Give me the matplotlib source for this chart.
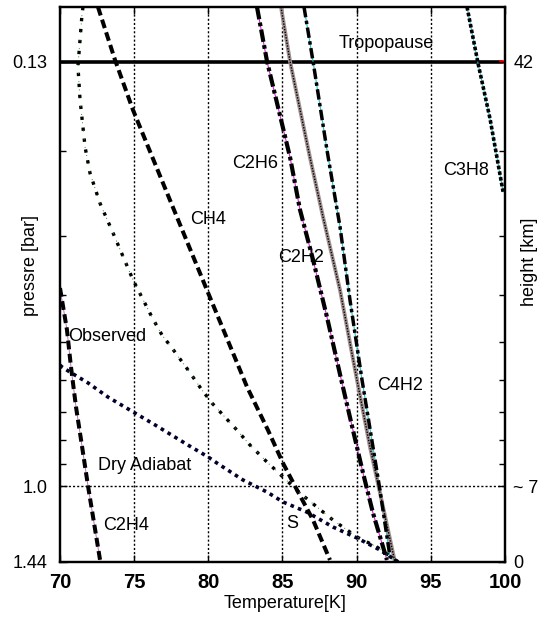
import matplotlib
matplotlib.use("Agg")
import matplotlib.pyplot as plt
from matplotlib.ticker import FixedLocator, NullFormatter

plt.rcParams['font.family'] = ['Liberation Sans', 'DejaVu Sans']
plt.rcParams['font.size'] = 13

# curves: temperature [K] vs pressure [bar]
obs_T = [71.55, 71.48, 71.21, 71.35, 71.69, 72.02, 72.70, 73.57, 74.92, 76.20, 76.88, 77.55,
         78.63, 79.57, 80.25, 81.93, 82.81, 83.96, 85.03, 86.18, 87.33, 88.40, 90.02, 91.37, 92.8]
obs_p = [0.100, 0.104, 0.133, 0.156, 0.196, 0.222, 0.257, 0.296, 0.371, 0.444, 0.484, 0.515,
         0.572, 0.630, 0.671, 0.764, 0.821, 0.891, 0.957, 1.034, 1.106, 1.177, 1.277, 1.340, 1.44]

dry_T = [70.00, 70.13, 70.67, 71.89, 73.24, 75.06, 76.40, 78.63, 79.98, 80.58, 82.34, 83.96,
         85.03, 86.65, 88.40, 90.02, 91.57, 92.8]
dry_p = [0.559, 0.564, 0.578, 0.609, 0.652, 0.704, 0.745, 0.821, 0.869, 0.895, 0.971, 1.029,
         1.079, 1.133, 1.217, 1.283, 1.359, 1.44]

ch4_T = [72.56, 73.71, 74.92, 76.94, 79.91, 82.61, 84.02, 85.03, 85.98, 87.06, 88.20]
ch4_p = [0.100, 0.129, 0.164, 0.233, 0.390, 0.621, 0.764, 0.895, 1.019, 1.177, 1.426]

c2h4_T = [70.00, 70.47, 70.74, 71.08, 71.42, 71.89, 72.70]
c2h4_p = [0.386, 0.472, 0.564, 0.684, 0.801, 1.000, 1.426]

c2h6_T = [83.28, 83.96, 85.51, 86.18, 87.06, 88.00, 89.01, 89.75, 90.43, 91.10, 92.04]
c2h6_p = [0.100, 0.130, 0.206, 0.265, 0.337, 0.444, 0.609, 0.764, 0.939, 1.138, 1.426]

c2h2_T = [84.90, 85.51, 86.85, 87.73, 88.88, 90.02, 90.90, 91.78, 92.58]
c2h2_p = [0.100, 0.130, 0.206, 0.274, 0.390, 0.600, 0.829, 1.106, 1.44]

c4h2_T = [86.45, 87.06, 88.00, 88.88, 89.55, 90.36, 91.10, 91.57, 92.25]
c4h2_p = [0.100, 0.130, 0.199, 0.288, 0.409, 0.600, 0.829, 1.019, 1.406]

c3h8_T = [97.44, 98.18, 98.99, 99.87]
c3h8_p = [0.100, 0.131, 0.171, 0.243]

tropopause_p = 0.13

p_ticks = [0.13, 1.0, 1.44]
p_ticklabels = ['0.13', '1.0', '1.44']
h_ticklabels = ['42', '~ 7', '0']
p_minor = [0.2, 0.3, 0.4, 0.5, 0.6, 0.7, 0.8, 0.9]
t_ticks = [70, 75, 80, 85, 90, 95, 100]

# label text and where it sits (T, p)
labels = [
    ('Tropopause', 91.98, 0.119, 'center'),
    ('C2H6', 83.15, 0.212, 'center'),
    ('CH4', 79.98, 0.278, 'center'),
    ('C2H2', 86.25, 0.333, 'center'),
    ('C3H8', 97.37, 0.219, 'center'),
    ('C4H2', 92.92, 0.618, 'center'),
    ('Observed', 70.54, 0.487, 'left'),
    ('Dry Adiabat', 75.73, 0.9035, 'center'),
    ('C2H4', 74.45, 1.211, 'center'),
    ('S', 85.64, 1.194, 'center'),
]

fig = plt.figure(figsize=(5.41, 6.24), dpi=100)
ax = fig.add_axes([60 / 541, 1 - 562 / 624, 445 / 541, 555 / 624])

ax.set_yscale('log')
ax.set_xlim(70, 100)
ax.set_ylim(1.44, 0.1)

grid_ls = (0, (1.5, 1.5))
for t in t_ticks[1:-1]:
    ax.axvline(t, color='black', lw=1.0, ls=grid_ls, zorder=1)
ax.axhline(1.0, color='black', lw=1.0, ls=grid_ls, zorder=1)

# tropopause
ax.plot([70, 99.7], [tropopause_p, tropopause_p], color='black', lw=2.6, zorder=3)
ax.plot([99.7, 100], [tropopause_p, tropopause_p], color='red', lw=2.6, zorder=3)

# observed and dry adiabat
ax.plot(obs_T, obs_p, color='black', lw=2.4, ls=(0, (1, 2.3)), zorder=4)
ax.plot(obs_T, obs_p, color='#1a9a1a', lw=0.7, ls=(0, (1, 7.5)), zorder=5)
ax.plot(dry_T, dry_p, color='#00002a', lw=2.6, ls=(0, (1, 1.2)), zorder=4)

# dashed ones
ax.plot(ch4_T, ch4_p, color='black', lw=2.9, ls=(0, (2.2, 1.1)), zorder=4)
ax.plot(c2h4_T, c2h4_p, color='#c070c0', lw=0.7, zorder=3)
ax.plot(c2h4_T, c2h4_p, color='black', lw=2.9, ls=(0, (2.2, 1.1)), zorder=4)

# dash-dot ones
ax.plot(c2h6_T, c2h6_p, color='#e020e0', lw=0.8, zorder=3)
ax.plot(c2h6_T, c2h6_p, color='black', lw=3.0, ls=(0, (3.0, 0.8, 0.9, 0.8)), zorder=4)
ax.plot(c4h2_T, c4h2_p, color='#20c0d0', lw=0.8, zorder=3)
ax.plot(c4h2_T, c4h2_p, color='black', lw=2.5, ls=(0, (3.0, 1.0, 1.0, 1.0)), zorder=4)

# grey hatched one
ax.plot(c2h2_T, c2h2_p, color='#a09090', lw=2.8, zorder=3)
ax.plot(c2h2_T, c2h2_p, color='black', lw=1.0, ls=(0, (1, 1)), zorder=4)

# C3H8 dotted
ax.plot(c3h8_T, c3h8_p, color='#20c0d0', lw=0.8, zorder=3)
ax.plot(c3h8_T, c3h8_p, color='black', lw=2.6, ls=(0, (1, 0.6)), zorder=4)

for txt, t, p, ha in labels:
    ax.text(t, p, txt, ha=ha, va='center', fontsize=13, zorder=6)

ax.set_xticks(t_ticks)
ax.set_xticklabels([str(t) for t in t_ticks], fontweight='bold')
ax.set_yticks(p_ticks)
ax.set_yticklabels(p_ticklabels)
ax.yaxis.set_minor_locator(FixedLocator(p_minor))
ax.yaxis.set_minor_formatter(NullFormatter())
ax.tick_params(axis='x', direction='in', top=True, length=5, width=1, pad=8, labelsize=14.5)
ax.tick_params(axis='y', which='major', direction='in', length=5, width=1, pad=9, labelsize=13)
ax.tick_params(axis='y', which='minor', direction='in', length=4, width=1)

ax2 = ax.twinx()
ax2.set_yscale('log')
ax2.set_ylim(1.44, 0.1)
ax2.set_yticks(p_ticks)
ax2.set_yticklabels(h_ticklabels)
ax2.yaxis.set_minor_locator(FixedLocator(p_minor))
ax2.yaxis.set_minor_formatter(NullFormatter())
ax2.tick_params(axis='y', which='major', direction='in', length=5, width=1, pad=6, labelsize=13)
ax2.tick_params(axis='y', which='minor', direction='in', length=4, width=1)

for a in (ax, ax2):
    for s in a.spines.values():
        s.set_linewidth(1.6)

fig.text(31 / 541, 1 - 265 / 624, 'pressre [bar]', rotation=90, ha='center', va='center', fontsize=13)
fig.text(530 / 541, 1 - 262 / 624, 'height [km]', rotation=90, ha='center', va='center', fontsize=13)
fig.text(285 / 541, 1 - 604 / 624, 'Temperature[K]', ha='center', va='center', fontsize=13)

fig.savefig('out.png', dpi=100)
